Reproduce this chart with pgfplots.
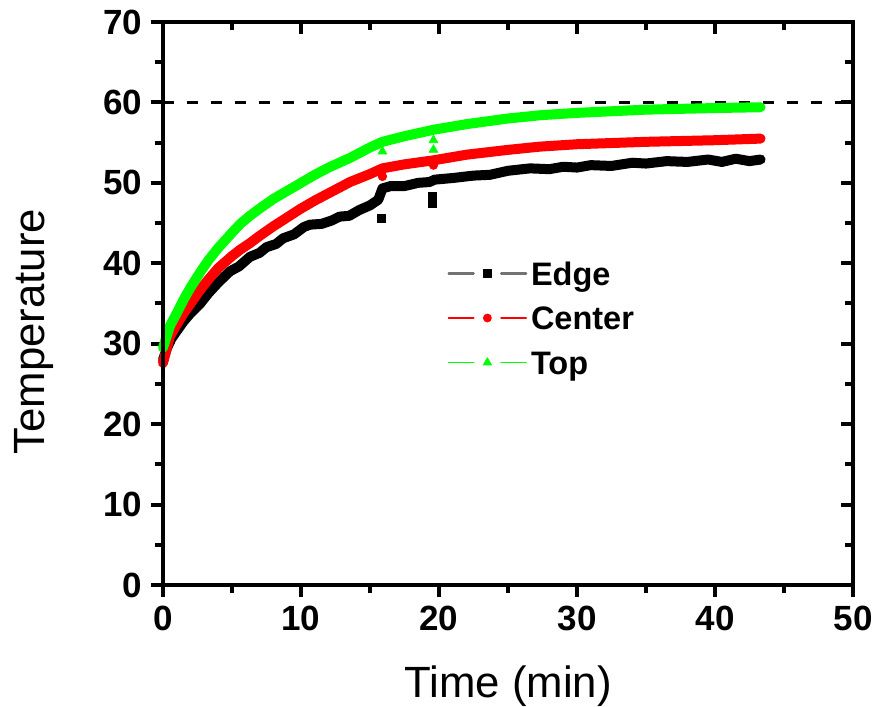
\documentclass[border=0pt]{standalone}
\usepackage{fontspec}
\setmainfont{Liberation Sans}
\usepackage{pgfplots}
\pgfplotsset{compat=1.18}
\usetikzlibrary{calc}

\definecolor{cgreen}{RGB}{0,255,0}
\definecolor{cred}{RGB}{255,0,0}

\begin{document}
\begin{tikzpicture}
% frame ticks on top and right point inwards
\begin{axis}[
  name=ax,
  scale only axis,
  width=276pt, height=225.2pt,
  xmin=0, xmax=50, ymin=0, ymax=70,
  xtick={0,10,...,50}, ytick={0,10,...,70},
  minor x tick num=1, minor y tick num=1,
  xtick pos=left, ytick pos=left,
  tick align=outside,
  major tick length=4.8pt, minor tick length=3.2pt,
  axis line style={line width=1.6pt},
  every tick/.style={black, line width=1.6pt},
  /pgf/number format/assume math mode=true,
  tick label style={font=\fontsize{14}{14}\selectfont\bfseries},
  xlabel={Time (min)},
  ylabel={Temperature},
  label style={font=\fontsize{17.5}{17.5}\selectfont},
  xlabel shift=7pt,
  ylabel shift=13pt,
  ylabel style={at={(ticklabel cs:0.45)}},
  clip=false,
  legend style={at={(axis cs:20.58,40.7)}, anchor=north west, draw=none, fill=none,
    inner sep=0pt, row sep=5.5pt,
    font=\fontsize{13}{13}\selectfont\bfseries,
    nodes={inner sep=1.5pt, text height=9.3pt, text depth=0pt}},
  legend cell align=left,
]

\addplot[black, line width=1.2pt, dash pattern=on 4.3pt off 5.3pt, forget plot]
  coordinates {(0,60) (50,60)};

\addplot[black, line width=4pt, line join=round, line cap=round,
  legend image code/.code={
    \draw[black!55, line width=0.9pt] (0pt,0pt)--(10pt,0pt) (21pt,0pt)--(31pt,0pt);
    \draw[black, line width=0.3pt, mark=square*, mark size=1.5pt] plot coordinates {(15.5pt,0pt)};
  }] coordinates {
  (0,28.0) (0.3,29.5) (0.6,30.6) (1,31.6) (1.5,32.8) (2,33.8) (2.7,35.0)
  (3.3,36.3) (4,37.6) (4.85,39.0) (5.5,39.6) (6.3,40.8) (7,41.3) (7.5,42.0)
  (8.2,42.4) (8.7,43.1) (9.5,43.6) (10.2,44.5) (10.65,44.8) (11.5,44.9)
  (12.2,45.3) (12.8,45.8) (13.5,45.9) (14.2,46.6) (15.0,47.2) (15.6,47.9)
  (15.9,49.3) (16.5,49.6) (17.5,49.6) (18.5,50.0) (19.3,50.1) (19.7,50.4)
  (21,50.6) (22.5,50.9) (23.7,51.0) (25,51.5) (26.6,51.8) (28,51.7) (29,52.0)
  (30,51.9) (31,52.2) (32.5,52.1) (34,52.5) (35,52.4) (36.5,52.7) (38,52.6)
  (39.5,52.9) (40.5,52.6) (41.5,53.0) (42.5,52.7) (43.3,52.9)
};
\addlegendentry{Edge}

\addplot[cred, line width=4pt, line join=round, line cap=round,
  legend image code/.code={
    \draw[cred, line width=0.7pt] (0pt,0pt)--(10pt,0pt) (21pt,0pt)--(31pt,0pt);
    \draw[cred, line width=0.3pt, mark=*, mark size=1.6pt] plot coordinates {(15.5pt,0pt)};
  }] coordinates {
  (0,27.6) (0.5,30.9) (1,32.4) (1.5,33.8) (2,35.0) (2.7,36.7) (3.3,38.0)
  (4,39.4) (5,40.9) (5.6,41.7) (6.3,42.5) (7,43.4) (8,44.6) (9,45.7) (9.9,46.7)
  (11,47.8) (12,48.7) (13.55,50.1) (15,51.1) (15.9,51.8) (17.5,52.3) (19.6,52.8)
  (22,53.5) (25,54.1) (27.3,54.5) (30,54.8) (35,55.1) (40,55.3) (43.3,55.5)
};
\addlegendentry{Center}

\addplot[cgreen, line width=4pt, line join=round, line cap=round,
  legend image code/.code={
    \draw[cgreen, line width=0.7pt] (0pt,0pt)--(10pt,0pt) (21pt,0pt)--(31pt,0pt);
    \draw[cgreen, line width=0.3pt, mark=triangle*, mark size=1.9pt] plot coordinates {(15.5pt,0pt)};
  }] coordinates {
  (0,29.5) (0.5,32.2) (1,33.8) (1.5,35.5) (2,37.0) (2.7,38.9) (3.3,40.4)
  (4,41.9) (5,43.8) (5.6,44.9) (6.3,45.9) (7,46.8) (8,48.0) (9,49.0) (9.9,49.9)
  (11,51.0) (12,51.9) (13.55,53.1) (15,54.4) (15.9,55.1) (17.5,55.8) (19.6,56.6)
  (22,57.3) (25,58.0) (27.3,58.4) (30,58.7) (35,59.1) (40,59.3) (43.3,59.4)
};
\addlegendentry{Top}

% stray readings
\addplot[only marks, black, line width=0.3pt, mark=square*, mark size=1.6pt, forget plot]
  coordinates {(15.8,45.6) (19.5,48.3) (19.5,47.5)};
\addplot[only marks, cred, line width=0.3pt, mark=*, mark size=1.7pt, forget plot]
  coordinates {(15.9,50.8) (19.6,52.2)};
\addplot[only marks, cgreen, line width=0.3pt, mark=triangle*, mark size=2pt, forget plot]
  coordinates {(15.9,53.9) (19.6,55.3) (19.6,54.1)};
\end{axis}

\begin{axis}[
  scale only axis,
  width=276pt, height=225.2pt,
  xmin=0, xmax=50, ymin=0, ymax=70,
  xtick={0,10,...,50}, ytick={0,10,...,70},
  minor x tick num=1, minor y tick num=1,
  xtick pos=right, ytick pos=right,
  tick align=inside,
  major tick length=4.8pt, minor tick length=3.2pt,
  axis line style={line width=1.6pt},
  every tick/.style={black, line width=1.6pt},
  xticklabels={}, yticklabels={},
]
\end{axis}

\pgfresetboundingbox
\path[use as bounding box] ($(ax.south west)+(-65.2pt,-48.8pt)$) rectangle ($(ax.north east)+(9.6pt,8.8pt)$);
\end{tikzpicture}
\end{document}
